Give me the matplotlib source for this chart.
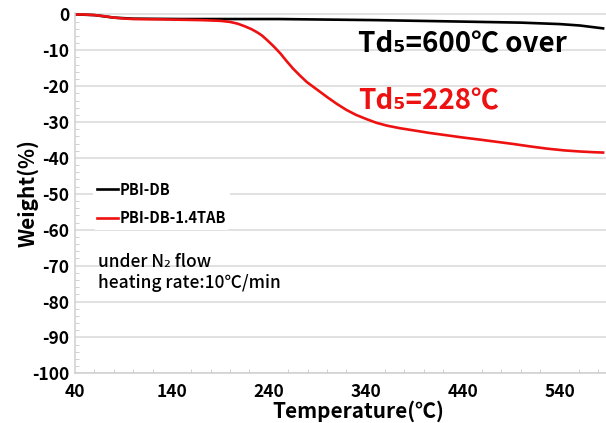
import matplotlib
matplotlib.use("Agg")
import matplotlib.pyplot as plt
from matplotlib.ticker import MultipleLocator

plt.rcParams['font.family'] = ['Noto Sans CJK JP', 'DejaVu Sans']
plt.rcParams['axes.unicode_minus'] = False

# TGA curves
temp_db = [40, 60, 80, 100, 150, 250, 350, 437, 500, 540, 561, 585]
weight_db = [0, -0.2, -0.9, -1.2, -1.3, -1.3, -1.6, -2.0, -2.3, -2.7, -3.1, -3.9]

temp_tab = [40, 50, 60, 70, 80, 90, 100, 130, 170, 190, 200, 208, 215, 222,
            228, 233, 238, 245, 252, 258, 265, 272, 279, 290, 300, 310, 320,
            330, 341, 351, 362, 375, 389, 405, 424, 440, 458, 475, 492, 510,
            527, 545, 561, 575, 585]
weight_tab = [0, -0.05, -0.2, -0.5, -0.9, -1.15, -1.3, -1.4, -1.6, -1.8,
              -2.1, -2.6, -3.3, -4.1, -5.0, -5.9, -7.1, -8.9, -10.9, -12.9,
              -15.1, -17.0, -18.8, -21.0, -23.0, -24.9, -26.6, -28.0, -29.2,
              -30.2, -31.0, -31.7, -32.3, -33.0, -33.7, -34.3, -34.9, -35.5,
              -36.1, -36.8, -37.4, -37.9, -38.2, -38.4, -38.5]

labels = ['PBI-DB', 'PBI-DB-1.4TAB']
xticks = [40, 140, 240, 340, 440, 540]
yticks = list(range(-100, 1, 10))

red = '#ee1111'
grid_c = '#d9d9d9'

fig = plt.figure(figsize=(6.06, 4.23), dpi=100)
ax = fig.add_axes([75 / 606, 1 - 373.3 / 423, 531 / 606, (373.3 - 13.3) / 423])

ax.plot(temp_db, weight_db, color='black', lw=1.9, label=labels[0])
ax.plot(temp_tab, weight_tab, color=red, lw=1.9, label=labels[1])

ax.set_xlim(40, 588)
ax.set_ylim(-100, 0.3)
ax.set_xticks(xticks)
ax.set_yticks(yticks)
ax.xaxis.set_minor_locator(MultipleLocator(20))
ax.yaxis.set_minor_locator(MultipleLocator(2))
ax.grid(axis='y', color=grid_c, lw=1.1)
ax.set_axisbelow(True)
ax.tick_params(which='both', direction='in', color='#c8c8c8')
ax.tick_params(which='major', length=0)
ax.tick_params(which='minor', length=3)
ax.tick_params(axis='x', pad=7, labelsize=12.5)
ax.tick_params(axis='y', pad=4, labelsize=12.5)
for lab in ax.get_xticklabels() + ax.get_yticklabels():
    lab.set_fontweight('bold')
for s in ['top', 'right']:
    ax.spines[s].set_visible(False)
for s in ['left', 'bottom']:
    ax.spines[s].set_color('#d0d0d0')
    ax.spines[s].set_linewidth(1.1)

ax.set_ylabel('Weight(%)', fontsize=15, fontweight='bold')
ax.yaxis.set_label_coords(-0.068, 0.5)
fig.text(358 / 606, 1 - 418 / 423, 'Temperature(℃)', fontsize=15,
         fontweight='bold', ha='center', va='baseline')

leg = ax.legend(loc='upper left', bbox_to_anchor=(0.02, 0.565), frameon=True,
                prop={'weight': 'bold', 'size': 10.5},
                handlelength=1.4, handletextpad=0.1, labelspacing=0.85,
                borderpad=0.3)
leg.get_frame().set_facecolor('white')
leg.get_frame().set_edgecolor('none')
leg.get_frame().set_alpha(1)

ax.text(332, -10.45, 'Td₅=600℃ over', fontsize=20, fontweight='bold',
        color='black', va='baseline', ha='left')
ax.text(332, -26.3, 'Td₅=228℃', fontsize=20, fontweight='bold',
        color=red, va='baseline', ha='left')

ax.text(63.5, -68.9, 'under N₂ flow', fontsize=12.5, fontweight='medium',
        va='center', ha='left')
ax.text(63.5, -74.8, 'heating rate:10℃/min', fontsize=12.5, fontweight='medium',
        va='center', ha='left')

fig.savefig('out.png', dpi=100)
